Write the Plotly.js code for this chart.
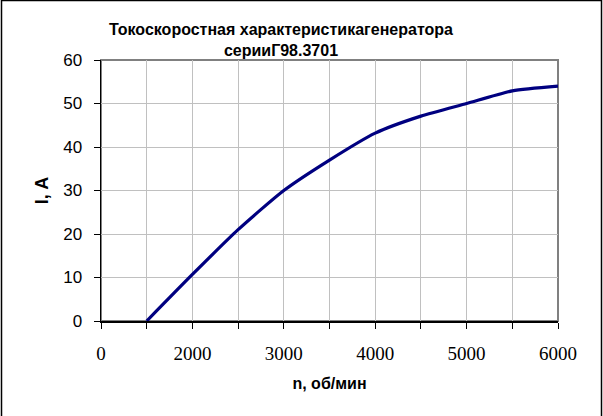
<!DOCTYPE html>
<html>
<head>
<meta charset="utf-8">
<script src="https://cdn.plot.ly/plotly-3.0.1.min.js"></script>
<style>
  html, body { margin: 0; padding: 0; background: #ffffff; }
  #chart { width: 603px; height: 416px; }
</style>
</head>
<body>
<div id="chart"></div>
<script>
// Speed categories (rpm), as in the original category axis
const speedCategories = ["0", "1000", "2000", "2500", "3000", "3500", "4000", "4500", "5000", "5500", "6000"];
// Tick labels shown on the axis (every other category)
const speedTickLabels = ["0", "", "2000", "", "3000", "", "4000", "", "5000", "", "6000"];
// Generator current, A (no value at 0 rpm)
const currentValues = [null, 0, 10.7, 21.0, 30.0, 37.0, 43.2, 47.1, 50.0, 52.9, 54.0];

const trace = {
  x: speedCategories,
  y: currentValues,
  type: "scatter",
  mode: "lines",
  line: { color: "#000080", width: 3.2, shape: "spline", smoothing: 0.6 },
  connectgaps: false,
  hoverinfo: "x+y",
  showlegend: false
};

const layout = {
  width: 603,
  height: 416,
  margin: { l: 101, r: 45, t: 60, b: 95 },
  paper_bgcolor: "#ffffff",
  plot_bgcolor: "#ffffff",
  showlegend: false,
  title: {
    text: "<b>Токоскоростная характеристикагенератора<br>серииГ98.3701</b>",
    font: { family: "Liberation Sans", size: 16, color: "#000000" },
    x: 0.466,
    xref: "container",
    xanchor: "center",
    y: 0.915,
    yref: "container",
    yanchor: "bottom"
  },
  xaxis: {
    type: "category",
    categoryorder: "array",
    categoryarray: speedCategories,
    range: [0, 10],
    tickmode: "array",
    tickvals: speedCategories,
    ticktext: speedTickLabels,
    ticks: "outside",
    ticklen: 6,
    tickwidth: 1,
    tickcolor: "#000000",
    ticklabelstandoff: 9,
    tickfont: { family: "Times New Roman, serif", size: 19, color: "#000000" },
    showgrid: true,
    gridcolor: "#c0c0c0",
    gridwidth: 1,
    showline: true,
    linecolor: "#000000",
    linewidth: 1.5,
    zeroline: false,
    fixedrange: true,
    title: {
      text: "<b>n, об/мин</b>",
      font: { family: "Liberation Sans", size: 16, color: "#000000" },
      standoff: 14
    }
  },
  yaxis: {
    range: [0, 60],
    dtick: 10,
    tick0: 0,
    ticks: "outside",
    ticklen: 6,
    tickwidth: 1,
    tickcolor: "#000000",
    ticklabelstandoff: 8,
    tickfont: { family: "Liberation Sans", size: 17, color: "#000000" },
    showgrid: true,
    gridcolor: "#c0c0c0",
    gridwidth: 1,
    showline: true,
    linecolor: "#000000",
    linewidth: 1.5,
    zeroline: false,
    fixedrange: true,
    title: {
      text: "<b>I, A</b>",
      font: { family: "Liberation Sans", size: 18, color: "#000000" },
      standoff: 10
    }
  },
  shapes: [
    {
      type: "rect", xref: "paper", yref: "paper", layer: "below",
      x0: 0, x1: 1, y0: 0, y1: 1,
      line: { color: "#808080", width: 2 }
    },
    {
      type: "rect", xref: "paper", yref: "paper", layer: "above",
      x0: (1.5 - 101) / 457, x1: (601.5 - 101) / 457,
      y0: (321 - 420) / 261, y1: (321 - 0.5) / 261,
      line: { color: "#000000", width: 1.5 }
    }
  ]
};

Plotly.newPlot("chart", [trace], layout, { displayModeBar: false, staticPlot: true });
</script>
</body>
</html>
